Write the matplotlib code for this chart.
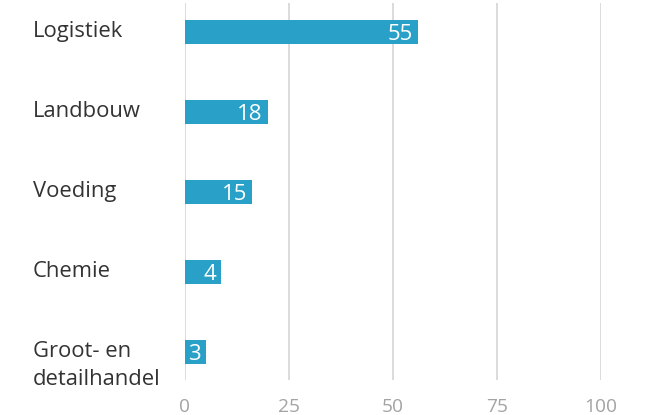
import matplotlib
matplotlib.use("Agg")
from matplotlib import pyplot as plt
from matplotlib.transforms import blended_transform_factory

# data
categories = ["Logistiek", "Landbouw", "Voeding", "Chemie", "Groot- en\ndetailhandel"]
labels = [55, 18, 15, 4, 3]
# drawn bar lengths (slightly longer than the printed labels in the source chart)
bar_lengths = [56.0, 19.9, 16.1, 8.7, 5.0]
x_ticks = [0, 25, 50, 75, 100]

bar_color = "#29a0c7"
text_color = "#333333"
tick_color = "#a3a3a3"
grid_color = "#d9d9d9"

plt.rcParams['font.family'] = ['Open Sans', 'DejaVu Sans']

W, H = 646, 415
fig = plt.figure(figsize=(W / 100, H / 100), dpi=100)
ax = fig.add_axes([185 / W, 1 - 380 / H, (601 - 185) / W, (380 - 3) / H])

ypos = list(range(len(categories)))
ax.barh(ypos, bar_lengths, height=0.31, color=bar_color, zorder=2)

ax.set_xlim(0, 100)
ax.set_ylim(4.35, -0.3625)
ax.set_xticks(x_ticks)
ax.set_xticklabels([str(t) for t in x_ticks])
ax.set_yticks([])
ax.tick_params(axis='x', length=0, pad=13, labelsize=13.8, labelcolor=tick_color)
for s in ax.spines.values():
    s.set_visible(False)
ax.grid(axis='x', color=grid_color, linewidth=1.3, zorder=0)

# value labels inside bars
for y, length, lab in zip(ypos, bar_lengths, labels):
    ax.annotate(str(lab), (length, y), xytext=(-5, -2), textcoords='offset pixels',
                ha='right', va='center', color='white', fontsize=16, zorder=3)

# category labels, left aligned; extra lines hang below the first one
trans = blended_transform_factory(fig.transFigure, ax.transData)
for y, cat in zip(ypos, categories):
    for k, line in enumerate(cat.split("\n")):
        ax.text(33 / W, y - 0.01 + k * 0.35, line, transform=trans, ha='left', va='center',
                color=text_color, fontsize=15.8)

fig.savefig("out.png", dpi=100)
